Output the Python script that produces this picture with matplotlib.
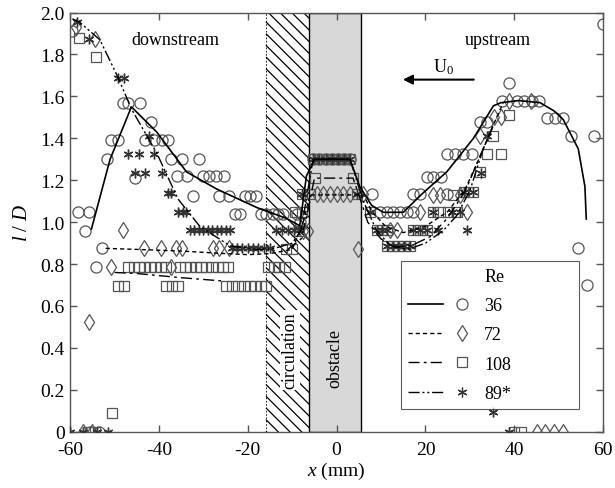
import numpy as np
import matplotlib
matplotlib.use("Agg")
import matplotlib.pyplot as plt
from matplotlib.lines import Line2D
from matplotlib.legend_handler import HandlerTuple

plt.rcParams['font.family'] = 'Liberation Serif'
plt.rcParams['mathtext.fontset'] = 'custom'
plt.rcParams['mathtext.rm'] = 'Liberation Serif'
plt.rcParams['mathtext.it'] = 'Liberation Serif:italic'

# ---- measured points (x in mm, l/D) ----
# Re = 36 (circles)
re36_x = [-59.5, -58.2, -55.7, -56.7, -52.9, -54.2, -51.7, -50.7, -49.2, -48.2, -46.9, -44.3,
          -41.9, -45.4, -43.2, -41.1, -39.4, -37.9, -37.2, -34.9, -30.9,
          -36.0, -33.6, -30.0, -28.7, -27.2, -25.4,
          -32.4, -26.4, -24.2, -20.7, -19.4, -18.2,
          -22.9, -21.8, -17.1, -15.8, -14.4, -13.2, -12.1, -9.0, -8.3,
          -5.3, -3.9, -2.5, -1.1, 0.3, 1.7, 3.0, 7.9,
          9.8, 11.3, 12.8, 14.3, 15.8, 17.3, 17.3, 18.8, 24.8,
          20.3, 21.8, 23.4, 24.8, 26.6, 28.5, 30.4, 32.3, 33.9,
          37.2, 40.5, 42.2, 43.9, 45.6, 38.9, 47.3, 49.2, 50.9,
          52.7, 58.0, 60.0, 54.4, 56.3, -55.5, -53.5]
re36_y = [1.91, 1.05, 1.05, 0.96, 0.875, 0.784, 1.30, 1.39, 1.39, 1.57, 1.57, 1.57,
          1.48, 1.21, 1.39, 1.39, 1.39, 1.39, 1.30, 1.30, 1.30,
          1.22, 1.22, 1.22, 1.22, 1.22, 1.22,
          1.126, 1.126, 1.126, 1.126, 1.126, 1.126,
          1.04, 1.04, 1.04, 1.04, 1.04, 1.04, 1.04, 1.04, 1.00,
          1.30, 1.30, 1.30, 1.30, 1.30, 1.30, 1.30, 1.133,
          1.047, 1.047, 1.047, 1.047, 1.047, 1.047, 1.134, 1.134, 1.134,
          1.214, 1.214, 1.214, 1.325, 1.325, 1.325, 1.325, 1.48, 1.48,
          1.58, 1.58, 1.58, 1.58, 1.58, 1.664, 1.497, 1.497, 1.497,
          1.41, 1.41, 1.945, 0.876, 0.70, 0.0, 0.0]

# Re = 72 (diamonds)
re72_x = [-58.6, -54.4, -48.1, -55.7, -50.7, -37.2,
          -43.4, -39.6, -36.2, -34.9, -27.8, -26.4, -24.2, -7.5, -6.4,
          -4.5, -3.0, -1.5, 0.0, 1.5, 3.0, 6.0, 4.9,
          18.8, 29.3, 12.0, 13.5, 21.8, 23.3, 27.8, 32.3, 35.4, 37.0, 38.7, 43.7,
          45.0, 47.0, 49.0, 51.0, -57.0, -55.0]
re72_y = [1.93, 1.873, 0.964, 0.525, 0.784, 0.784,
          0.875, 0.875, 0.875, 0.875, 0.875, 0.875, 0.875, 0.96, 0.96,
          1.133, 1.133, 1.133, 1.133, 1.133, 1.133, 1.133, 0.87,
          1.047, 1.047, 0.964, 0.964, 1.13, 1.13, 1.13, 1.41, 1.50, 1.50, 1.58, 1.58,
          0.0, 0.0, 0.0, 0.0, 0.0, 0.0]

# Re = 108 (squares)
re108_x = [-58.0, -54.2,
           -46.9, -45.7, -44.5, -43.3, -42.1, -40.9, -39.6, -38.4,
           -35.3, -34.1, -32.9, -31.7, -30.5, -29.3, -28.1, -26.8, -25.6, -24.4,
           -15.4, -14.2, -12.9, -11.6,
           -49.2, -47.9, -38.3, -37.0, -35.6,
           -24.8, -23.5, -22.2, -20.9, -19.6, -18.3, -17.0, -15.8,
           -50.5, -56.0, -54.5, -11.4, -10.1, -9.4, -7.7, -8.5,
           -5.3, -3.9, -2.5, -1.1, 0.3, 1.7, 3.0,
           -4.9, 3.7, -7.9, -6.0, 4.5,
           7.5, 21.8, 23.3, 25.1, 27.2, 9.1, 10.2, 11.3, 17.3, 18.8, 20.3,
           11.3, 12.6, 13.9, 15.2, 16.5, 26.3, 28.7, 30.8, 32.3, 33.9, 36.9, 35.3, 38.9,
           40.0, 41.5]
re108_y = [1.877, 1.786,
           0.784, 0.784, 0.784, 0.784, 0.784, 0.784, 0.784, 0.784,
           0.784, 0.784, 0.784, 0.784, 0.784, 0.784, 0.784, 0.784, 0.784, 0.784,
           0.784, 0.784, 0.784, 0.784,
           0.697, 0.697, 0.697, 0.697, 0.697,
           0.697, 0.697, 0.697, 0.697, 0.697, 0.697, 0.697, 0.697,
           0.089, 0.0, 0.0, 0.87, 0.87, 1.047, 1.047, 0.96,
           1.30, 1.30, 1.30, 1.30, 1.30, 1.30, 1.30,
           1.21, 1.21, 1.133, 1.133, 1.133,
           1.047, 1.047, 1.047, 1.05, 1.05, 0.964, 0.964, 0.964, 0.964, 0.964, 0.964,
           0.887, 0.887, 0.887, 0.887, 0.887, 1.13, 1.142, 1.142, 1.24, 1.325, 1.325, 1.41, 1.51,
           0.0, 0.0]

# Re = 89* (asterisks)
re89_x = [-58.4, -55.7, -49.2, -47.9, -42.2, -46.9, -44.5, -41.1, -45.4, -43.2, -39.4,
          -37.9, -37.2, -35.7, -34.5, -33.8,
          -33.0, -32.0, -31.0, -30.0, -29.0, -28.0, -27.0, -26.0, -25.0, -24.0,
          -23.6, -22.4, -21.2, -20.0, -18.8, -17.6, -16.3, -15.0,
          -13.6, -12.3, -11.0, -9.7, -8.4, -7.9,
          -5.3, -3.9, -2.5, -1.1, 0.3, 1.7, 3.0, 4.5,
          7.5, 9.1, 10.2, 11.3, 11.3, 12.6, 13.9, 15.2, 16.5,
          17.3, 18.8, 20.3, 22.9, 29.3, 21.8, 25.9, 27.8, 28.7, 30.8, 32.5, 33.8,
          35.3, 38.9, -60.0, -57.0, -54.0, -51.5]
re89_y = [1.956, 1.873, 1.69, 1.69, 1.41, 1.325, 1.325, 1.325, 1.234, 1.234, 1.234,
          1.139, 1.139, 1.05, 1.05, 1.05,
          0.964, 0.964, 0.964, 0.964, 0.964, 0.964, 0.964, 0.964, 0.964, 0.964,
          0.876, 0.876, 0.876, 0.876, 0.876, 0.876, 0.876, 0.876,
          0.964, 0.964, 0.964, 0.964, 0.964, 1.134,
          1.30, 1.30, 1.30, 1.30, 1.30, 1.30, 1.30, 1.133,
          1.047, 0.964, 0.964, 0.964, 0.887, 0.887, 0.887, 0.887, 0.887,
          0.964, 0.964, 0.964, 0.964, 0.964, 1.05, 1.05, 1.05, 1.142, 1.142, 1.234, 1.41,
          0.095, 0.0, 0.0, 0.0, 0.0, 0.0]

# fitted curves
fit36_x = [-55.2, -51.0, -46.2, -40.5, -33.8, -27.0, -18.0, -11.3, -8.3, -6.8, -5.0, 3.0, 5.2,
           7.9, 10.5, 15.0, 19.5, 24.8, 30.8, 35.3, 37.0, 41.0, 45.8, 49.0, 51.0, 54.4, 55.9, 56.2]
fit36_y = [0.967, 1.30, 1.55, 1.43, 1.24, 1.158, 1.07, 1.018, 0.983, 1.22, 1.30, 1.30, 1.17,
           1.08, 1.047, 1.047, 1.14, 1.24, 1.40, 1.555, 1.57, 1.58, 1.57, 1.53, 1.49, 1.35, 1.17, 1.015]
fit72_x = [-52.0, -45.0, -35.0, -25.0, -20.0, -15.0, -10.0, -7.5, -6.0, 4.5, 6.0, 8.0, 11.0,
           15.0, 20.0, 25.0, 29.0, 32.0, 35.0, 37.5]
fit72_y = [0.875, 0.87, 0.862, 0.85, 0.845, 0.85, 0.87, 1.0, 1.13, 1.13, 1.13, 1.05, 0.98,
           0.95, 0.98, 1.05, 1.16, 1.30, 1.45, 1.57]
fit108_x = [-50.0, -45.0, -35.0, -26.0]
fit108_y = [0.76, 0.755, 0.735, 0.72]
fit108r_x = [-11.0, -8.0, -6.5, -5.0, 3.7, 5.0, 7.0, 10.0, 13.0, 17.0, 21.0, 25.0, 29.0, 32.0, 35.5]
fit108r_y = [0.87, 0.92, 1.05, 1.21, 1.21, 1.13, 1.0, 0.92, 0.88, 0.89, 0.93, 1.02, 1.15, 1.30, 1.47]
fit89_x = [-59.5, -57.8, -53.3, -49.2, -46.2, -40.5, -35.7, -30.8, -24.0, -18.0, -14.0, -10.0,
           -8.0, -6.5, -5.3, 3.0, 6.0, 9.0, 12.0, 16.0, 20.0, 24.0, 27.0, 30.0, 33.0, 35.0]
fit89_y = [1.97, 1.953, 1.87, 1.69, 1.54, 1.33, 1.11, 0.98, 0.887, 0.87, 0.875, 0.90,
           0.96, 1.15, 1.30, 1.30, 1.10, 0.96, 0.89, 0.87, 0.90, 0.96, 1.03, 1.15, 1.35, 1.45]

labels = ['36', '72', '108', '89*']
styles = ['-', (0, (3, 2.2)), (0, (8, 3, 2, 3)), (0, (8, 2, 1.5, 2, 1.5, 2))]

fig = plt.figure(figsize=(6.15, 4.89), dpi=100)
ax = fig.add_axes([0.114, 0.115, 0.8667, 0.8573])
ax.set_xlim(-60, 60)
ax.set_ylim(0, 2)

# circulation zone (hatched) and obstacle
x0, x1 = -15.8, -6.2
ax.axvspan(x0, x1, facecolor='white', edgecolor='none', zorder=0)
k = 4.44 / 209.6
for c in np.arange(0.0, 2.3, 0.0558):
    ax.plot([x0, x1], [c, c - (x1 - x0) * k], color='k', lw=0.9, zorder=0.5)
ax.axvline(x0, color='k', lw=0.6, ls=(0, (2, 2)), zorder=0.6)
ax.axvspan(-6.2, 5.6, facecolor='#d8d8d8', edgecolor='k', lw=1.0, zorder=0.7)

ax.text(-10.5, 0.39, 'circulation', rotation=90, ha='center', va='center', fontsize=13,
        bbox=dict(facecolor='white', edgecolor='none', pad=1.0), zorder=1)
ax.text(-0.4, 0.356, 'obstacle', rotation=90, ha='center', va='center', fontsize=13, zorder=1)

mk = dict(linestyle='none', zorder=3)
ax.plot(re36_x, re36_y, marker='o', ms=8, mfc='none', mec='#555555', mew=0.9, **mk)
ax.plot(re72_x, re72_y, marker='d', ms=8, mfc='none', mec='#555555', mew=0.9, **mk)
ax.plot(re108_x, re108_y, marker='s', ms=6.5, mfc='none', mec='#555555', mew=0.9, **mk)
ax.plot(re89_x, re89_y, marker=(6, 2, 0), ms=7, color='#333333', mew=1.0, **mk)

ax.plot(fit36_x, fit36_y, color='k', ls=styles[0], lw=1.2, zorder=4)
ax.plot(fit72_x, fit72_y, color='k', ls=styles[1], lw=1.0, zorder=4)
ax.plot(fit108_x, fit108_y, color='k', ls=styles[2], lw=1.0, zorder=4)
ax.plot(fit108r_x, fit108r_y, color='k', ls=styles[2], lw=1.0, zorder=4)
ax.plot(fit89_x, fit89_y, color='k', ls=styles[3], lw=1.0, zorder=4)

ax.text(-36.4, 1.873, 'downstream', ha='center', va='center', fontsize=13)
ax.text(36.4, 1.873, 'upstream', ha='center', va='center', fontsize=13)
ax.annotate('', xy=(14.3, 1.68), xytext=(31.5, 1.68),
            arrowprops=dict(arrowstyle='-|>', color='k', lw=1.5, mutation_scale=14))
ax.text(24, 1.745, r'U$_0$', ha='center', va='center', fontsize=13)

# legend
markers = [dict(marker='o', ms=8, mfc='none', mec='#555555'),
           dict(marker='d', ms=8, mfc='none', mec='#555555'),
           dict(marker='s', ms=6.5, mfc='none', mec='#555555'),
           dict(marker=(6, 2, 0), ms=7, color='#333333')]
handles = [Line2D([], [], ls='none')]
names = ['Re']
for lab, st, m in zip(labels, styles, markers):
    ln = Line2D([], [], color='k', ls=st, lw=1.2 if st == '-' else 1.0)
    pt = Line2D([], [], ls='none', mew=0.9, **m)
    handles.append((ln, pt))
    names.append(lab)
leg = ax.legend(handles, names, loc='lower left',
                bbox_to_anchor=(0.621, 0.054, 0.333, 0.35), mode='expand',
                handler_map={tuple: HandlerTuple(ndivide=None, pad=0.1)},
                handlelength=3.9, handletextpad=0.3, labelspacing=0.68,
                borderpad=0.4, fontsize=13, frameon=True, fancybox=False,
                borderaxespad=0)
leg.get_frame().set_edgecolor('#333333')
leg.get_frame().set_linewidth(0.8)

# axes styling
for s in ax.spines.values():
    s.set_color('#555555')
    s.set_linewidth(1.0)
ax.set_xticks(np.arange(-60, 61, 20))
ax.set_yticks(np.arange(0, 2.01, 0.2))
ax.set_xticklabels(['-60', '-40', '-20', '0', '20', '40', '60'])
ax.set_yticklabels(['0'] + ['%.1f' % v for v in np.arange(0.2, 2.01, 0.2)])
ax.tick_params(direction='in', top=True, right=True, labelsize=14, length=5,
               color='#555555', width=1.0)
ax.tick_params(axis='x', pad=7)
ax.tick_params(axis='y', pad=4)
ax.set_xlabel(r'$x$ (mm)', fontsize=14, labelpad=1)
ax.set_ylabel(r'$l\ /\ D$', fontsize=15, labelpad=6)

fig.savefig('out.png', dpi=100)
